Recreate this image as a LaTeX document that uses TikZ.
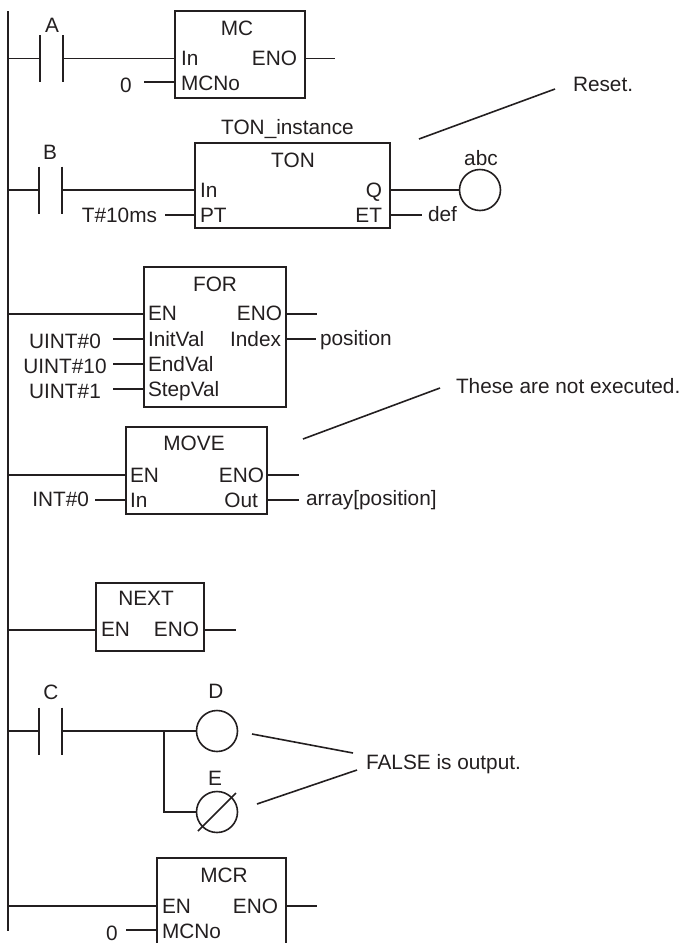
\documentclass[tikz,border=0pt]{standalone}
\usepackage{fontspec}
\setmainfont{Liberation Sans}
\definecolor{ink}{HTML}{231F20}
\tikzset{
  ln/.style={line width=1.6pt,draw=ink},
  lbl/.style={font=\fontsize{20.8}{25}\selectfont,text=ink,inner sep=0pt,outer sep=0pt},
  L/.style={lbl,anchor=base west},
  R/.style={lbl,anchor=base east},
  C/.style={lbl,anchor=base},
  fb/.style={ln,rectangle,anchor=north west,inner sep=0pt,outer sep=0pt},
  contactgap/.style={rectangle,anchor=center,inner sep=0pt,outer sep=0pt,minimum width=23pt,minimum height=47pt},
  coil/.style={ln,circle,inner sep=0pt,outer sep=0pt,minimum size=41pt},
}
\begin{document}
\begin{tikzpicture}[x=1pt,y=-1pt]
\path[use as bounding box] (0,0) rectangle (684,943);
\begin{scope}
\clip (0,0) rectangle (684,943);
% rail
\coordinate (railtop) at (8,11);
\coordinate (railbot) at (8,931);
\draw[ln] (railtop) -- (railbot);

% ---- MC
\node[fb,minimum width=130pt,minimum height=87pt] (MC) at (175,11) {};
\node[contactgap] (cA) at (51.5,58.5) {};
\draw[ln] (cA.north west) -- (cA.south west) (cA.north east) -- (cA.south east);
\draw[ln] (railtop |- cA.west) -- (cA.west);
\draw[ln] (cA.east) -- (MC.west |- cA.east);
\node[C] (tA) at (52,32) {A};
\node[C] (tMC) at (237,35) {MC};
\node[L] (tMCin) at (181,65) {In};
\node[R] (tMCeno) at (297,65) {ENO};
\node[L] (tMCno) at (181,90) {MCNo};
\node[C] (t0a) at (126,92) {0};
\coordinate (p0a) at (144,82);
\draw[ln] (p0a) -- (MC.west |- p0a);
\coordinate (eMC) at (335,58.5);
\draw[ln] (MC.east |- eMC) -- (eMC);

% ---- TON
\node[C] (tTONi) at (287.5,134) {TON\_instance};
\node[fb,minimum width=195pt,minimum height=85pt] (TON) at (195,143) {};
\node[contactgap] (cB) at (50.5,190) {};
\draw[ln] (cB.north west) -- (cB.south west) (cB.north east) -- (cB.south east);
\draw[ln] (railtop |- cB.west) -- (cB.west);
\draw[ln] (cB.east) -- (TON.west |- cB.east);
\node[C] (tB) at (50,159) {B};
\node[C] (tTON) at (293,167) {TON};
\node[L] (tTONin) at (200,197) {In};
\node[L] (tTONpt) at (200,222.5) {PT};
\node[R] (tTONq) at (382,197) {Q};
\node[R] (tTONet) at (382,222.5) {ET};
\node[R] (t10) at (157,222.5) {T\#10ms};
\coordinate (p10) at (165,215);
\draw[ln] (p10) -- (TON.west |- p10);
\node[coil] (abc) at (480,190) {};
\draw[ln] (TON.east |- abc.west) -- (abc.west);
\node[C] (tabc) at (481,165) {abc};
\coordinate (pdef) at (422,215);
\draw[ln] (TON.east |- pdef) -- (pdef);
\node[L] (tdef) at (428,221) {def};
\coordinate (r1) at (419,139);
\coordinate (r2) at (555,89);
\draw[ln] (r1) -- (r2);
\node[L] (tReset) at (573,91) {Reset.};

% ---- FOR
\node[fb,minimum width=142pt,minimum height=140pt] (FOR) at (144,267) {};
\node[C] (tFOR) at (215,291) {FOR};
\coordinate (pF) at (8,314);
\draw[ln] (railtop |- pF) -- (FOR.west |- pF);
\node[L] (tFen) at (148,320.5) {EN};
\node[R] (tFeno) at (282,320.5) {ENO};
\node[L] (tFiv) at (148,346) {InitVal};
\node[R] (tFidx) at (281,346) {Index};
\node[L] (tFev) at (148,371) {EndVal};
\node[L] (tFsv) at (148,396) {StepVal};
\node[C] (tU0) at (65,348.5) {UINT\#0};
\node[C] (tU10) at (65,373.5) {UINT\#10};
\node[C] (tU1) at (65,398.5) {UINT\#1};
\coordinate (pU0) at (113,339);
\coordinate (pU10) at (113,364);
\coordinate (pU1) at (113,389);
\draw[ln] (pU0) -- (FOR.west |- pU0);
\draw[ln] (pU10) -- (FOR.west |- pU10);
\draw[ln] (pU1) -- (FOR.west |- pU1);
\coordinate (eF) at (317,314);
\draw[ln] (FOR.east |- eF) -- (eF);
\coordinate (iF) at (316,339);
\draw[ln] (FOR.east |- iF) -- (iF);
\node[L] (tpos) at (320,345) {position};

% ---- MOVE
\node[fb,minimum width=141pt,minimum height=87pt] (MOVE) at (126,427) {};
\node[C] (tMOVE) at (194,450.5) {MOVE};
\coordinate (pM) at (8,475);
\draw[ln] (railtop |- pM) -- (MOVE.west |- pM);
\node[L] (tMen) at (130,482) {EN};
\node[R] (tMeno) at (264,482) {ENO};
\node[L] (tMin) at (130,507) {In};
\node[R] (tMout) at (258,507) {Out};
\node[R] (tI0) at (89,506) {INT\#0};
\coordinate (pI0) at (95,500);
\draw[ln] (pI0) -- (MOVE.west |- pI0);
\coordinate (eM) at (299,475);
\draw[ln] (MOVE.east |- eM) -- (eM);
\coordinate (oM) at (299,500);
\draw[ln] (MOVE.east |- oM) -- (oM);
\node[L] (tarr) at (306,505) {array[position]};
\coordinate (n1) at (303,439);
\coordinate (n2) at (440,388);
\draw[ln] (n1) -- (n2);
\node[L] (tNot) at (456,393) {These are not executed.};

% ---- NEXT
\node[fb,minimum width=108pt,minimum height=68pt] (NEXT) at (96,583) {};
\node[C] (tNEXT) at (146,605.5) {NEXT};
\coordinate (pN) at (8,630);
\draw[ln] (railtop |- pN) -- (NEXT.west |- pN);
\node[L] (tNen) at (101,636.5) {EN};
\node[R] (tNeno) at (199,636.5) {ENO};
\coordinate (eN) at (236,630);
\draw[ln] (NEXT.east |- eN) -- (eN);

% ---- C D E
\node[contactgap] (cC) at (50.5,731) {};
\draw[ln] (cC.north west) -- (cC.south west) (cC.north east) -- (cC.south east);
\draw[ln] (railtop |- cC.west) -- (cC.west);
\node[C] (tC) at (51,699) {C};
\node[coil] (D) at (217,731) {};
\draw[ln] (cC.east) -- (D.west);
\node[C] (tD) at (216,698) {D};
\node[coil] (E) at (217,812) {};
\node[C] (tE) at (215,785) {E};
\coordinate (j) at (164,731);
\draw[ln] (j) |- (E.west);
\draw[ln] ([shift={(-19,19)}]E.center) -- ([shift={(19,-19)}]E.center);
\coordinate (f1) at (252,734);
\coordinate (f2) at (353,753);
\coordinate (f3) at (257,804);
\coordinate (f4) at (357,770);
\draw[ln] (f1) -- (f2);
\draw[ln] (f3) -- (f4);
\node[L] (tFalse) at (366,769) {FALSE is output.};

% ---- MCR
\node[fb,minimum width=129pt,minimum height=110pt] (MCR) at (157,858) {};
\node[C] (tMCR) at (224,882) {MCR};
\coordinate (pR) at (8,906);
\draw[ln] (railtop |- pR) -- (MCR.west |- pR);
\node[L] (tRen) at (162,913) {EN};
\node[R] (tReno) at (278,913) {ENO};
\node[L] (tRno) at (162,938) {MCNo};
\node[C] (t0b) at (112,940) {0};
\coordinate (p0b) at (126,930);
\draw[ln] (p0b) -- (MCR.west |- p0b);
\coordinate (eR) at (317,906);
\draw[ln] (MCR.east |- eR) -- (eR);
\end{scope}
\end{tikzpicture}
\end{document}
